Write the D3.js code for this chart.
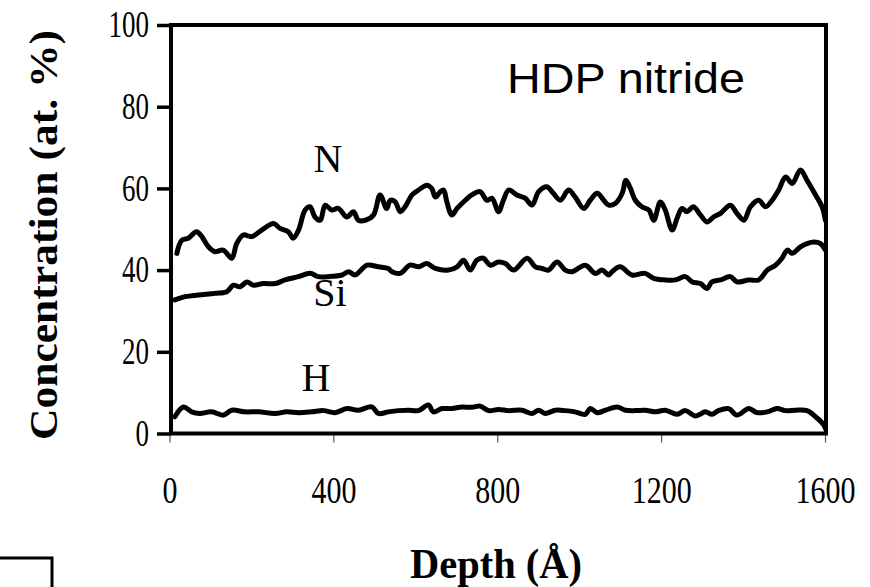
<!DOCTYPE html>
<html>
<head>
<meta charset="utf-8">
<script src="https://cdn.jsdelivr.net/npm/d3@7"></script>
<style>
  body { margin: 0; background: #fff; }
  svg { display: block; }
</style>
</head>
<body>
<svg id="canvas" width="870" height="587"></svg>
<script>
// depth (Angstrom) and concentration (at. %)
let nDepth=[18,30,46,66,79,95,111,131,152,164,180,201,225,254,270,290,302,315,331,343,355,368,380,396,412,433,449,461,478,498,514,530,539,551,563,575,592,608,628,640,649,661,669,677,689,702,722,738,758,775,787,803,815,828,848,868,885,901,921,937,954,974,990,1011,1027,1044,1060,1072,1088,1105,1114,1125,1137,1153,1170,1182,1198,1210,1227,1239,1251,1263,1279,1296,1312,1328,1345,1369,1385,1402,1418,1438,1455,1471,1487,1504,1520,1540,1556,1577,1593,1601];
let nConc=[44.1,47.3,47.8,49.4,48.2,45.7,44.5,44.9,42.9,46.5,48.6,48.2,49.8,51.4,50.2,49.4,47.8,49.8,54.7,55.5,53.0,52.2,55.9,54.7,55.1,53.0,54.3,52.2,52.2,53.5,58.4,55.1,57.1,56.7,54.3,55.5,58.4,59.6,60.8,60.0,57.9,59.2,59.6,56.7,53.5,55.1,57.1,58.4,59.2,57.1,57.6,54.3,57.1,59.6,58.4,57.6,55.9,59.2,60.4,58.8,57.1,59.6,57.9,55.1,57.1,58.8,57.1,55.9,56.3,58.8,62.0,60.0,57.1,55.5,54.7,52.2,56.7,54.7,49.8,52.7,55.1,54.3,55.5,53.5,51.8,53.0,53.9,55.9,53.9,52.2,55.5,57.1,55.5,57.1,59.6,62.8,61.2,64.5,62.0,58.4,55.5,52.2];

let siDepth=[13,38,70,111,140,156,172,189,205,229,258,282,315,343,363,388,421,437,453,482,510,534,543,563,587,608,628,649,681,702,718,734,750,766,783,803,820,840,873,893,909,925,946,966,982,1015,1039,1056,1072,1080,1100,1129,1161,1182,1210,1235,1259,1276,1296,1312,1324,1345,1369,1385,1414,1438,1459,1479,1495,1508,1520,1540,1556,1573,1589,1601];
let siConc=[32.7,33.5,33.9,34.3,34.7,36.3,35.9,37.1,36.3,36.7,36.7,37.6,38.4,39.2,38.4,38.4,38.8,39.6,38.8,41.2,40.8,40.4,39.6,39.2,41.2,40.8,41.6,40.4,40.0,40.8,42.4,40.0,42.4,42.9,41.2,42.0,41.6,40.0,42.9,40.8,40.4,40.0,42.0,40.0,39.6,41.2,39.2,40.0,38.8,39.6,40.8,38.8,39.2,38.0,37.6,37.6,38.4,37.1,36.7,35.5,37.1,37.6,38.4,37.1,37.6,37.6,40.0,41.2,42.9,44.9,44.1,45.7,46.5,46.9,46.5,44.9];

let hDepth=[13,34,54,74,103,131,152,184,217,258,286,315,347,376,404,433,461,494,510,534,559,583,608,632,644,665,689,714,738,758,779,803,828,860,885,901,917,942,966,990,1015,1027,1044,1064,1092,1113,1137,1161,1186,1210,1239,1259,1284,1308,1324,1340,1365,1385,1414,1434,1459,1483,1503,1528,1556,1577,1597,1601];
let hConc=[4.1,6.5,5.3,4.9,5.3,4.5,5.7,5.3,5.3,4.9,5.3,5.1,5.3,5.6,5.1,6.1,5.7,6.5,4.9,5.3,5.6,5.7,5.6,7.0,5.3,6.1,6.1,6.5,6.4,6.7,5.6,5.9,5.6,5.7,4.9,5.7,4.9,5.7,5.6,5.3,4.7,6.1,5.1,5.7,6.5,5.7,5.6,5.7,5.3,5.7,4.7,5.6,4.3,5.3,4.7,5.6,6.1,4.5,6.1,5.1,5.3,6.1,5.6,5.7,5.6,4.1,2.1,1.2];

let xTicks=[0,400,800,1200,1600];
let yTicks=[0,20,40,60,80,100];

let canvas=d3.select('#canvas');
let pLeft=171, pRight=826, pTop=25, pBottom=433.5;

let xScale=d3.scaleLinear().domain([0,1600]).range([169.5,825]);
let yScale=d3.scaleLinear().domain([0,100]).range([pBottom,pTop]);

let serif='"Liberation Serif","Times New Roman",serif';

// x axis: thin ticks under the axis
let xAxis=d3.axisBottom(xScale).tickValues(xTicks).tickFormat(d3.format('d')).tickSize(9).tickPadding(34);
let gx=canvas.append('g').attr('transform','translate(0,'+pBottom+')').call(xAxis);
gx.select('.domain').remove();
gx.selectAll('line').attr('stroke','#555').attr('stroke-width',1.2);
gx.selectAll('text').style('font-family',serif).style('font-size','37px').attr('fill','#000')
  .attr('textLength',(d)=>String(d).length*15).attr('lengthAdjust','spacingAndGlyphs');

// y axis: heavy ticks outside
let yAxis=d3.axisLeft(yScale).tickValues(yTicks).tickSize(14).tickPadding(8);
let gy=canvas.append('g').attr('transform','translate('+pLeft+',0)').call(yAxis);
gy.select('.domain').remove();
gy.selectAll('line').attr('stroke','#000').attr('stroke-width',3.5);
gy.selectAll('text').style('font-family',serif).style('font-size','37px').attr('fill','#000')
  .attr('textLength',(d)=>String(d).length*13.5).attr('lengthAdjust','spacingAndGlyphs');

// frame
canvas.append('rect').attr('x',pLeft).attr('y',pTop).attr('width',pRight-pLeft).attr('height',pBottom-pTop)
  .attr('fill','none').attr('stroke','#000').attr('stroke-width',4);

let line=d3.line().x((d)=>xScale(d[0])).y((d)=>yScale(d[1])).curve(d3.curveCatmullRom);
[[nDepth,nConc],[siDepth,siConc],[hDepth,hConc]].forEach((s)=>{
  canvas.append('path').datum(d3.zip(s[0],s[1])).attr('d',line)
    .attr('fill','none').attr('stroke','#000').attr('stroke-width',5)
    .attr('stroke-linejoin','round').attr('stroke-linecap','round');
});

// curve labels
canvas.append('text').attr('x',328).attr('y',172).attr('text-anchor','middle')
  .style('font-family',serif).style('font-size','40px').text('N');
canvas.append('text').attr('x',330).attr('y',306).attr('text-anchor','middle')
  .style('font-family',serif).style('font-size','40px').text('Si');
canvas.append('text').attr('x',316).attr('y',391).attr('text-anchor','middle')
  .style('font-family',serif).style('font-size','40px').text('H');

canvas.append('text').attr('x',507).attr('y',93)
  .style('font-family','"Liberation Sans",Arial,sans-serif').style('font-size','43px')
  .attr('textLength',238).attr('lengthAdjust','spacingAndGlyphs').text('HDP nitride');

// axis titles
canvas.append('text').attr('x',496).attr('y',578).attr('text-anchor','middle')
  .style('font-family',serif).style('font-weight','bold').style('font-size','42px')
  .attr('textLength',172).attr('lengthAdjust','spacingAndGlyphs').text('Depth (Å)');
canvas.append('text').attr('transform','translate(57,235) rotate(-90)').attr('text-anchor','middle')
  .style('font-family',serif).style('font-weight','bold').style('font-size','41px')
  .attr('textLength',410).attr('lengthAdjust','spacingAndGlyphs').text('Concentration (at. %)');

// leftover box edge at bottom left
canvas.append('path').attr('d','M0,558H52V587').attr('fill','none').attr('stroke','#000').attr('stroke-width',3);
</script>
</body>
</html>
